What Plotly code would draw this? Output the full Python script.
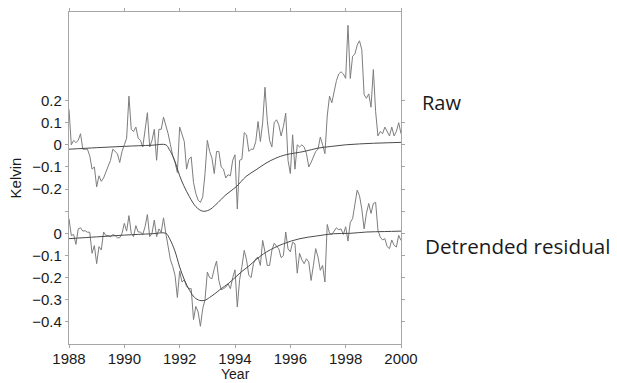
import numpy as np
import plotly.graph_objects as go

# Monthly time axis, Jan 1988 .. Jan 2000
months = 1988 + np.arange(145) / 12.0

# Raw temperature anomaly (K)
raw = [
    0.16, 0.0, 0.02, 0.01, 0.02, 0.05, -0.02, -0.02, -0.02, -0.05, -0.11, -0.10,
    -0.19, -0.14, -0.165, -0.15, -0.12, -0.10, -0.07, -0.02, -0.03, -0.04, -0.08, -0.03,
    0.0, 0.03, 0.22, 0.07, 0.06, 0.08, 0.03, 0.02, -0.01, 0.08, 0.145, -0.01,
    0.02, 0.07, -0.07, 0.07, 0.07, 0.125, 0.09, 0.05, 0.0, -0.05, -0.08, -0.125,
    0.08, 0.05, 0.015, -0.11, -0.065, -0.055, -0.17, -0.22, -0.25, -0.26, -0.235, -0.13,
    0.02, -0.03, -0.06, -0.13, -0.03, -0.03, -0.10, -0.11, -0.15, -0.135, -0.14, -0.07,
    -0.045, -0.29, -0.07, -0.065, 0.055, 0.045, -0.03, -0.02, -0.02, 0.015, 0.105, 0.015,
    0.10, 0.26, 0.11, 0.02, -0.01, 0.10, 0.113, 0.09, 0.04, 0.083, 0.143, -0.07,
    -0.13, 0.045, -0.11, 0.0, -0.01, 0.0, -0.01, -0.04, -0.10, -0.08, -0.05, -0.03,
    -0.02, 0.035, 0.0, -0.04, 0.13, 0.22, 0.19, 0.25, 0.29, 0.32, 0.33, 0.32,
    0.30, 0.54, 0.30, 0.40, 0.41, 0.45, 0.47, 0.43, 0.226, 0.21, 0.23, 0.17,
    0.34, 0.15, 0.04, 0.06, 0.05, 0.08, 0.06, 0.04, 0.08, 0.04, 0.06, 0.10,
    0.05,
]

# Detrended residual (K)
resid = [
    0.066, -0.01, -0.005, -0.05, 0.02, 0.025, 0.01, 0.012, 0.005, 0.005, -0.09, -0.055,
    -0.137, -0.06, -0.075, 0.006, -0.01, -0.01, -0.016, -0.005, -0.01, -0.02, -0.02, 0.0,
    0.045, 0.01, 0.08, 0.0, -0.015, 0.035, 0.006, 0.006, -0.005, 0.03, 0.085, -0.015,
    0.0, 0.06, -0.015, 0.02, 0.005, 0.07, 0.0, -0.07, -0.12, -0.15, -0.19, -0.29,
    -0.17, -0.22, -0.21, -0.24, -0.25, -0.25, -0.39, -0.33, -0.355, -0.42, -0.34, -0.30,
    -0.175, -0.2, -0.205, -0.16, -0.125, -0.213, -0.255, -0.25, -0.243, -0.228, -0.25, -0.2,
    -0.165, -0.333, -0.21, -0.15, -0.077, -0.12, -0.19, -0.2, -0.137, -0.115, -0.107, -0.145,
    -0.032, -0.084, -0.145, -0.145, -0.077, -0.045, -0.06, -0.07, -0.11, -0.1, 0.006, -0.07,
    -0.084, -0.04, -0.047, -0.18, -0.09, -0.12, -0.137, -0.115, -0.13, -0.213, -0.145, -0.069,
    -0.107, -0.167, -0.145, -0.22, 0.04, 0.0, -0.005, 0.01, 0.025, 0.016, 0.02, -0.005,
    0.03, -0.035, 0.05, 0.066, 0.127, 0.195, 0.17, 0.11, 0.02, 0.09, 0.135, 0.09,
    0.135, 0.14, 0.014, -0.017, -0.03, -0.024, -0.06, -0.069, -0.03, -0.054, -0.062, -0.009,
    -0.032,
]

# Fitted volcanic response (with trend) for the raw series
fit_raw_years = [1988.0, 1989.0, 1990.0, 1991.0, 1991.5, 1991.62, 1991.8, 1992.0,
                 1992.15, 1992.35, 1992.59, 1992.83, 1993.07, 1993.31, 1993.67, 1994.04,
                 1994.4, 1994.76, 1995.12, 1995.48, 1995.84, 1996.5, 1997.0, 1997.5,
                 1998.0, 1998.5, 1999.0, 1999.5, 2000.0]
fit_raw = [-0.02, -0.013, -0.007, -0.002, 0.0, -0.02, -0.065, -0.14,
           -0.185, -0.234, -0.28, -0.30, -0.294, -0.27, -0.226, -0.19,
           -0.143, -0.113, -0.083, -0.06, -0.045, -0.03, -0.015, -0.007,
           0.0, 0.004, 0.007, 0.009, 0.011]

# Fitted volcanic response for the residual series
fit_res_years = [1988.0, 1989.0, 1990.0, 1991.0, 1991.5, 1991.64, 1991.82, 1992.0,
                 1992.18, 1992.36, 1992.54, 1992.72, 1992.9, 1993.08, 1993.27, 1993.5,
                 1993.75, 1994.0, 1994.25, 1994.5, 1994.75, 1995.14, 1995.75, 1996.35,
                 1996.95, 1997.55, 1998.16, 1998.76, 1999.4, 2000.0]
fit_res = [-0.024, -0.016, -0.008, -0.002, 0.0, -0.025, -0.077, -0.152,
           -0.213, -0.258, -0.29, -0.303, -0.303, -0.29, -0.273, -0.25,
           -0.228, -0.2, -0.172, -0.148, -0.12, -0.084, -0.047, -0.024,
           -0.012, -0.002, 0.0, 0.006, 0.008, 0.01]

year_ticks = [1988, 1990, 1992, 1994, 1996, 1998, 2000]
raw_ticks = [0.2, 0.1, 0.0, -0.1, -0.2]
raw_labels = ["0.2", "0.1", "0", "\u22120.1", "\u22120.2"]
res_ticks = [0.1, 0.0, -0.1, -0.2, -0.3, -0.4]
res_labels = ["", "0", "\u22120.1", "\u22120.2", "\u22120.3", "\u22120.4"]

DATA_GREY = "#7d7d7d"
FIT_GREY = "#4a4a4a"
AXIS_GREY = "#a6a6a6"
TXT = "#1a1a1a"
FONT = "Liberation Sans, Arial, Helvetica, sans-serif"

fig = go.Figure()
fig.add_trace(go.Scatter(x=months, y=raw, mode="lines", yaxis="y",
                         line=dict(color=DATA_GREY, width=1)))
fig.add_trace(go.Scatter(x=fit_raw_years, y=fit_raw, mode="lines", yaxis="y",
                         line=dict(color=FIT_GREY, width=1, shape="spline", smoothing=1)))
fig.add_trace(go.Scatter(x=months, y=resid, mode="lines", yaxis="y2",
                         line=dict(color=DATA_GREY, width=1)))
fig.add_trace(go.Scatter(x=fit_res_years, y=fit_res, mode="lines", yaxis="y2",
                         line=dict(color=FIT_GREY, width=1, shape="spline", smoothing=1)))

common_axis = dict(showline=True, linecolor=AXIS_GREY, linewidth=1.3, mirror="ticks",
                   ticks="outside", ticklen=3, tickwidth=1, tickcolor=AXIS_GREY,
                   showgrid=False, zeroline=False, automargin=False,
                   tickfont=dict(family=FONT, size=15, color=TXT))

fig.update_layout(
    width=617, height=383,
    margin=dict(l=69, r=216, t=12, b=39),
    paper_bgcolor="white", plot_bgcolor="white",
    showlegend=False,
    xaxis=dict(range=[1988, 2000], tickvals=year_ticks, ticklabelstandoff=-2,
               **common_axis),
    yaxis=dict(range=[-0.9, 0.6], tickvals=raw_ticks, ticktext=raw_labels,
               title=dict(text="Kelvin", standoff=6, font=dict(family=FONT, size=15, color=TXT)),
               **common_axis),
    yaxis2=dict(range=[-0.5, 1.0], tickvals=res_ticks, ticktext=res_labels,
                overlaying="y", side="left", **common_axis),
    annotations=[
        dict(text="Year", xref="paper", yref="paper", x=0.5, y=-0.1175,
             xanchor="center", yanchor="bottom", showarrow=False, borderpad=0,
             font=dict(family=FONT, size=14, color=TXT)),
        dict(text="Raw", xref="paper", yref="paper", x=1.057, y=0.726,
             xanchor="left", yanchor="middle", showarrow=False,
             font=dict(family="Open Sans, sans-serif", size=20, color=TXT)),
        dict(text="Detrended residual", xref="paper", yref="paper", x=1.066, y=0.294,
             xanchor="left", yanchor="middle", showarrow=False,
             font=dict(family="Open Sans, sans-serif", size=20.6, color=TXT)),
    ],
)

fig.write_html("out.html")
